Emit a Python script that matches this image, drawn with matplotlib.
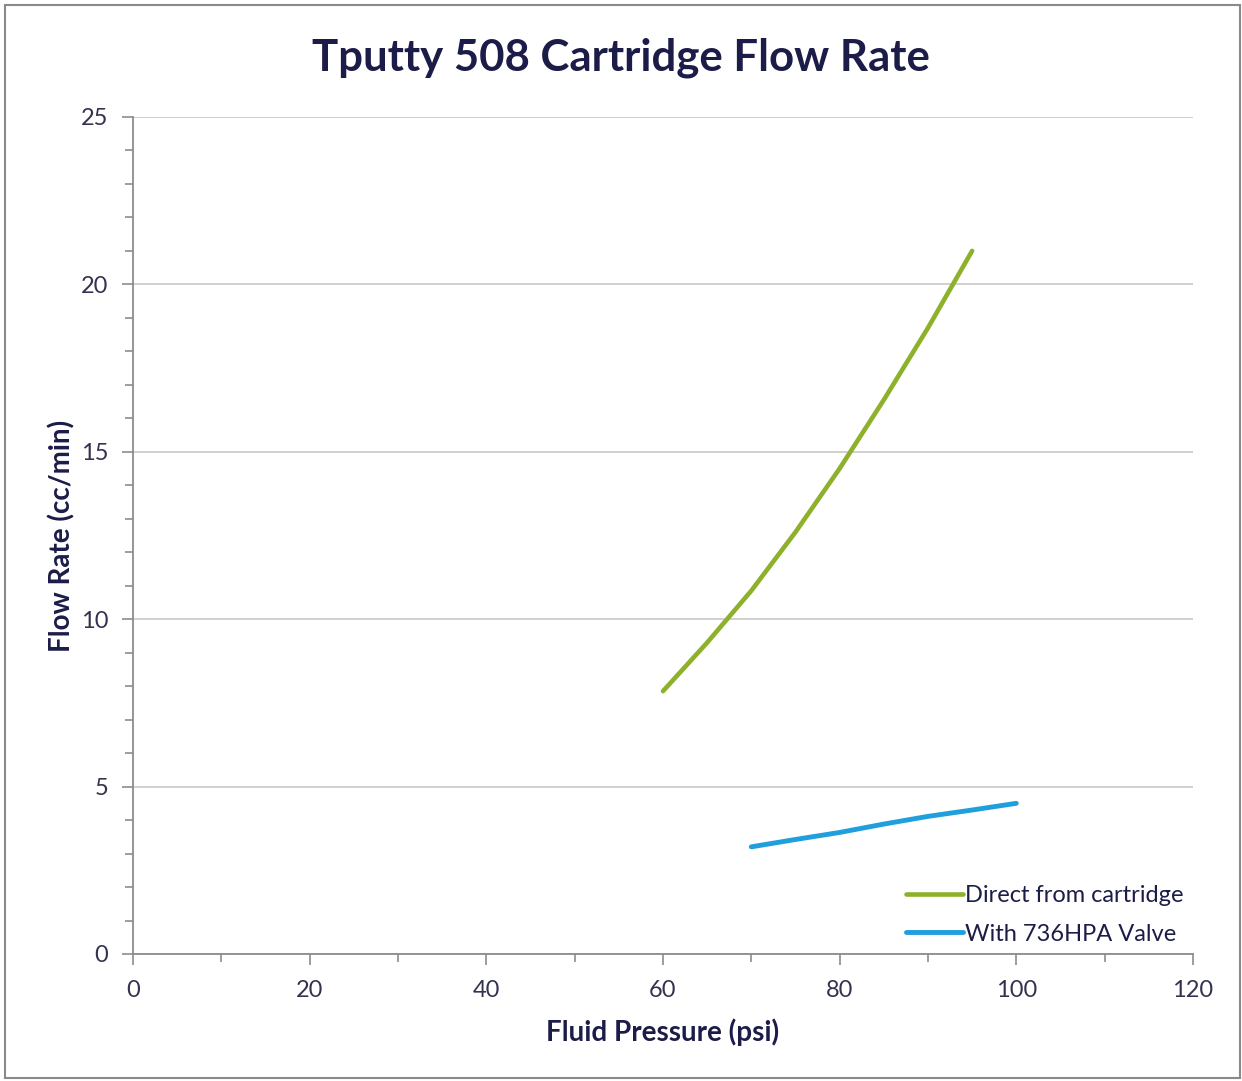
import matplotlib.pyplot as plt
from matplotlib.ticker import MultipleLocator
from matplotlib.patches import Rectangle

# data
direct_psi = [60, 65, 70, 75, 80, 85, 90, 95]
direct_flow = [7.85, 9.3, 10.85, 12.6, 14.5, 16.55, 18.7, 21.0]
valve_psi = [70, 75, 80, 85, 90, 95, 100]
valve_flow = [3.2, 3.42, 3.63, 3.88, 4.11, 4.3, 4.5]

plt.rcParams['font.family'] = ['Lato', 'DejaVu Sans']
navy = '#1c1c48'
tick_col = '#33334f'

fig = plt.figure(figsize=(12.42, 10.81), dpi=100)
ax = fig.add_axes([0.1071, 0.1175, 0.8534, 0.7743])

ax.plot(direct_psi, direct_flow, color='#8db12b', lw=3.3, solid_capstyle='round',
        solid_joinstyle='round', label='Direct from cartridge')
ax.plot(valve_psi, valve_flow, color='#1f9fdc', lw=3.5, solid_capstyle='round',
        solid_joinstyle='round', label='With 736HPA Valve')

ax.set_xlim(0, 120)
ax.set_ylim(0, 25)
ax.xaxis.set_major_locator(MultipleLocator(20))
ax.xaxis.set_minor_locator(MultipleLocator(10))
ax.yaxis.set_major_locator(MultipleLocator(5))
ax.yaxis.set_minor_locator(MultipleLocator(1))

ax.grid(axis='y', which='major', color='#c8c8c8', lw=1.2)
ax.set_axisbelow(True)
for s in ['top', 'right']:
    ax.spines[s].set_visible(False)
for s in ['left', 'bottom']:
    ax.spines[s].set_color('#8c8c8c')
    ax.spines[s].set_linewidth(1.3)

ax.tick_params(which='both', direction='out', color='#8c8c8c', width=1.2,
               labelsize=17, labelcolor=tick_col)
ax.tick_params(which='major', length=8)
ax.tick_params(which='minor', length=6)
ax.tick_params(axis='y', pad=10)
ax.tick_params(axis='x', pad=11)

ax.set_xlabel('Fluid Pressure (psi)', fontsize=20, fontweight='bold', color=navy, labelpad=12)
ax.set_ylabel('Flow Rate (cc/min)', fontsize=20, fontweight='bold', color=navy, labelpad=4)
fig.text(0.5, 0.947, 'Tputty 508 Cartridge Flow Rate', ha='center', va='center',
         fontsize=31.5, fontweight='bold', color=navy)

leg = ax.legend(loc='lower right', frameon=False, fontsize=17, handlelength=2.4,
                handletextpad=0.1, labelspacing=0.75, borderaxespad=0.0,
                bbox_to_anchor=(1.0, 0.0))
for t in leg.get_texts():
    t.set_color(navy)

fig.patches.append(Rectangle((0.004, 0.003), 0.994, 0.992, transform=fig.transFigure,
                             fill=False, edgecolor='#8a8a8a', lw=1.5))

fig.savefig('out.png', dpi=100)
